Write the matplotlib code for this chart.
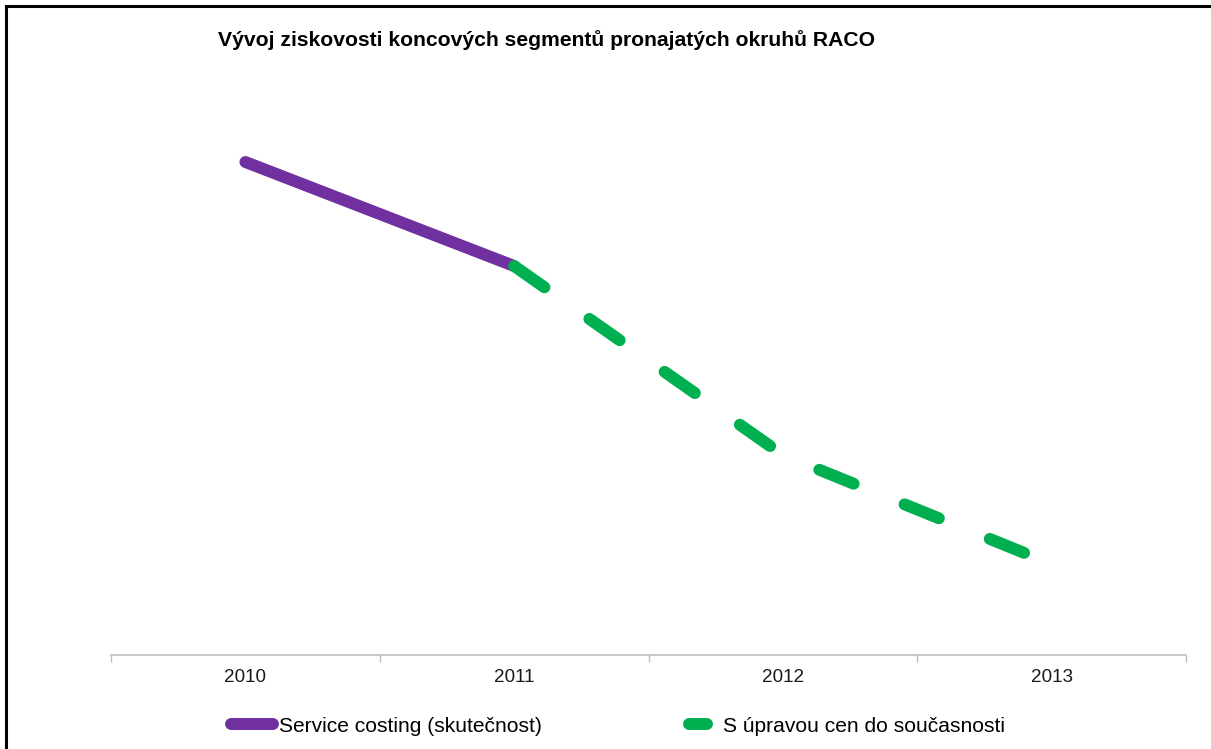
import numpy as np
import matplotlib.pyplot as plt
from matplotlib.lines import Line2D
from matplotlib.patches import Rectangle

# =============================
# DATA
# =============================
years = ["2010", "2011", "2012", "2013"]
actual_idx = [0, 1]
actual_vals = [493, 389]
adjusted_idx = [1, 2, 3]
adjusted_vals = [389, 200, 91]

title = "Vývoj ziskovosti koncových segmentů pronajatých okruhů RACO"
label_actual = "Service costing (skutečnost)"
label_adjusted = "S úpravou cen do současnosti"

purple = "#7030A0"
green = "#00B050"

plt.rcParams["font.family"] = ["Liberation Sans", "DejaVu Sans"]

W, H = 1211, 749
fig = plt.figure(figsize=(W / 100, H / 100), dpi=100)
ax = fig.add_axes([111 / W, (H - 655) / H, (1186 - 111) / W, 600 / H])

# =============================
# LINES
# =============================
LW = 8.6
ax.plot(actual_idx, actual_vals, color=purple, lw=LW,
        solid_capstyle="round", solid_joinstyle="round")
ax.plot(adjusted_idx, adjusted_vals, color=green, lw=LW,
        linestyle=(0, (3.1, 4.6)), dash_capstyle="round", dash_joinstyle="round")

ax.set_xlim(-0.5, 3.5)
ax.set_ylim(0, 600)

# =============================
# AXES STYLE
# =============================
for s in ["left", "right", "top"]:
    ax.spines[s].set_visible(False)
ax.spines["bottom"].set_color("#BFBFBF")
ax.spines["bottom"].set_linewidth(1.2)
ax.set_yticks([])

ax.set_xticks(np.arange(-0.5, 4, 1))
ax.set_xticklabels([])
ax.tick_params(axis="x", which="major", length=5, width=1, color="#BFBFBF",
               direction="out")
ax.set_xticks(np.arange(len(years)), minor=True)
ax.set_xticklabels(years, minor=True)
ax.tick_params(axis="x", which="minor", length=0, pad=10, labelsize=13.6,
               labelcolor="#1a1a1a")

# =============================
# TITLE + FRAME
# =============================
fig.text(218 / W, 1 - 40 / H, title, fontsize=15.2, fontweight="bold",
         ha="left", va="center", color="#000000")

fig.patches.append(Rectangle((6 / W, -0.1), 1.2, 1 - 6 / H + 0.1,
                             transform=fig.transFigure, fill=False,
                             edgecolor="#000000", linewidth=2.2))

# =============================
# LEGEND
# =============================
h1 = Line2D([], [], color=purple, lw=LW, solid_capstyle="round")
h2 = Line2D([], [], color=green, lw=LW, solid_capstyle="round")

fig.legend([h1], [label_actual], loc="center left",
           bbox_to_anchor=(231 / W, 1 - 726 / H), frameon=False,
           borderpad=0, borderaxespad=0, handlelength=2.0,
           handletextpad=0.3, fontsize=15.1)
fig.legend([h2], [label_adjusted], loc="center left",
           bbox_to_anchor=(689 / W, 1 - 726 / H), frameon=False,
           borderpad=0, borderaxespad=0, handlelength=0.85,
           handletextpad=0.75, fontsize=15.1)

fig.savefig("out.png", dpi=100)
